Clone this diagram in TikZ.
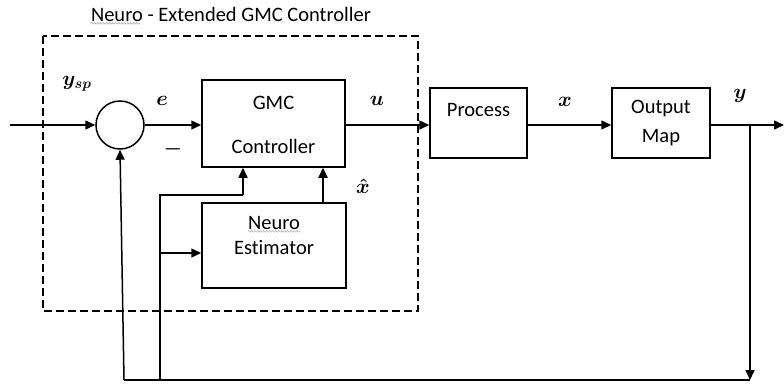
\documentclass[tikz,border=0pt]{standalone}
\usepackage{fontspec}
\setmainfont[Ligatures=NoCommon]{Carlito}
\usetikzlibrary{arrows.meta,decorations.pathmorphing}
\begin{document}
\begin{tikzpicture}[x=1pt,y=-1pt,
  blk/.style={draw,line width=1.5pt,rectangle,inner sep=0pt},
  txt/.style={inner sep=0pt,font=\fontsize{20.5}{22}\selectfont},
  lbl/.style={inner sep=0pt,font=\fontsize{21}{22}\selectfont\boldmath},
  conn/.style={line width=1.5pt,-{Triangle[length=10pt,width=9pt]}},
  plain/.style={line width=1.5pt},
  thick2/.style={line width=2.6pt},
  squig/.style={draw=gray!60,line width=0.6pt,decorate,decoration={snake,amplitude=0.8pt,segment length=3pt}}]
\useasboundingbox (0,0) rectangle (784,383);
% dashed box
\draw[line width=1.5pt,dash pattern=on 8pt off 4pt] (43,36) rectangle (418,311);
\node[txt] (title) at (231,14) {Neuro - Extended GMC Controller};
\draw[squig] ([yshift=-2pt]title.south west) -- ++(49,0);
% blocks
\node[draw,line width=1.5pt,circle,minimum size=48pt,inner sep=0pt] (sum) at (120,125) {};
\node[blk,minimum width=143pt,minimum height=87pt] (gmc) at (273.5,123.5) {};
\node[txt] (gmct1) at (273.5,103) {GMC};
\node[txt] (gmct2) at (273.5,146) {Controller};
\node[blk,minimum width=144pt,minimum height=85pt] (neuro) at (274,245.5) {};
\node[txt] (neurot1) at (274,223) {Neuro};
\draw[squig] ([yshift=-1.5pt]neurot1.south west) -- ([yshift=-1.5pt]neurot1.south east);
\node[txt] (neurot2) at (274,248) {Estimator};
\node[blk,minimum width=97pt,minimum height=70pt] (proc) at (478.5,123) {};
\node[txt] (proct) at (478.5,110) {Process};
\node[blk,minimum width=98pt,minimum height=70pt] (omap) at (661,123) {};
\node[txt] (omapt1) at (661,108) {Output};
\node[txt] (omapt2) at (661,138) {Map};
% labels
\node[lbl] (ysp) at (77,84) {$y_{sp}$};
\node[lbl] (le) at (162,101) {$e$};
\node[lbl] (lminus) at (173,149) {$-$};
\node[lbl] (lu) at (377,101) {$u$};
\node[lbl] (lx) at (565,102) {$x$};
\node[lbl] (ly) at (740,96) {$y$};
\node[lbl] (lxh) at (363,186) {$\hat{x}$};
% coordinates
\coordinate (in) at (10,125);
\coordinate (out) at (784,125);
\coordinate (br) at (750,125);
\coordinate (bot) at (750,380);
\coordinate (botl) at (124,380);
\coordinate (bm) at (160,380);
\coordinate (bt) at (160,195);
\coordinate (bg) at (243,195);
\coordinate (bn) at (160,253);
% connectors
\draw[conn] (in) -- (sum.west);
\draw[conn] (sum.east) -- (sum.east -| gmc.west);
\draw[conn] (gmc.east |- in) -- (proc.west |- in);
\draw[conn] (proc.east |- in) -- (omap.west |- in);
\draw[conn] (omap.east |- in) -- (out);
\draw[conn] (br) -- (bot);
\draw[thick2] (bot) -- (botl);
\draw[conn] (botl) -- (sum.south);
\draw[plain] (bm) -- (bt) -- (bg);
\draw[conn] (bg) -- (bg |- gmc.south);
\draw[conn] (bn) -- (bn -| neuro.west);
\draw[line width=2.3pt,-{Triangle[length=10pt,width=9pt]}] (neuro.north -| 323,0) -- (gmc.south -| 323,0);
\end{tikzpicture}
\end{document}
